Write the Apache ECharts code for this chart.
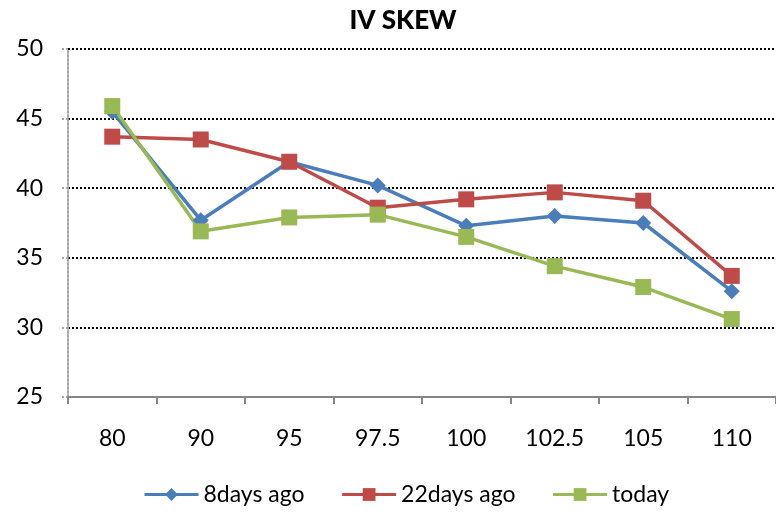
<!DOCTYPE html>
<html>
<head>
<meta charset="utf-8">
<script src="https://cdn.jsdelivr.net/npm/echarts@6/dist/echarts.min.js"></script>
<style>
  html, body { margin: 0; padding: 0; background: #fff; }
  #chart { width: 776px; height: 513px; }
</style>
</head>
<body>
<div id="chart"></div>
<script>
// Strike prices along the x axis
const strikes = ['80', '90', '95', '97.5', '100', '102.5', '105', '110'];
// Implied volatility by strike for each snapshot
const iv8DaysAgo = [45.5, 37.7, 41.9, 40.2, 37.3, 38.0, 37.5, 32.6];
const iv22DaysAgo = [43.7, 43.5, 41.9, 38.6, 39.2, 39.7, 39.1, 33.7];
const ivToday = [45.9, 36.9, 37.9, 38.1, 36.5, 34.4, 32.9, 30.6];
const seriesNames = ['8days ago', '22days ago', 'today'];

const FONT = 'Lato, "Open Sans", "Noto Sans", sans-serif';

const chart = echarts.init(document.getElementById('chart'));

function lineSeries(name, data, color, symbol, size) {
  return {
    name: name,
    type: 'line',
    data: data,
    symbol: symbol,
    symbolSize: size,
    lineStyle: { color: color, width: 3.5 },
    itemStyle: { color: color },
    emphasis: { disabled: true },
    animation: false
  };
}

chart.setOption({
  animation: false,
  title: {
    text: 'IV SKEW',
    left: 398,
    textAlign: 'center',
    top: 3,
    textStyle: { fontFamily: FONT, fontSize: 26, fontWeight: 900, color: '#000' }
  },
  grid: { left: 68, top: 49, width: 715, height: 348, containLabel: false },
  legend: {
    bottom: 2,
    left: 138,
    itemWidth: 54,
    itemHeight: 16,
    itemGap: 36,
    lineStyle: { width: 3 },
    textStyle: { fontFamily: FONT, fontSize: 23, color: '#000' },
    data: seriesNames
  },
  xAxis: {
    type: 'category',
    data: strikes,
    boundaryGap: true,
    axisLine: { lineStyle: { color: '#868686', width: 2 } },
    axisTick: { show: true, length: 7, lineStyle: { color: '#868686', width: 2 } },
    axisLabel: { fontFamily: FONT, fontSize: 23, color: '#000', margin: 30 },
    splitLine: { show: false }
  },
  yAxis: {
    type: 'value',
    min: 25,
    max: 50,
    interval: 5,
    axisLine: { show: true, lineStyle: { color: '#a6a6a6', width: 2, type: 'dotted' } },
    axisTick: { show: true, length: 6, lineStyle: { color: '#a6a6a6', width: 2, type: 'dotted' } },
    axisLabel: { fontFamily: FONT, fontSize: 23, color: '#000', margin: 25 },
    splitLine: { show: true, lineStyle: { color: '#000', width: 2, type: [2, 2] } }
  },
  series: [
    lineSeries(seriesNames[0], iv8DaysAgo, '#4A7EBB', 'diamond', 16),
    lineSeries(seriesNames[1], iv22DaysAgo, '#BE4B48', 'rect', 16),
    lineSeries(seriesNames[2], ivToday, '#98B954', 'rect', 16)
  ]
});
</script>
</body>
</html>
